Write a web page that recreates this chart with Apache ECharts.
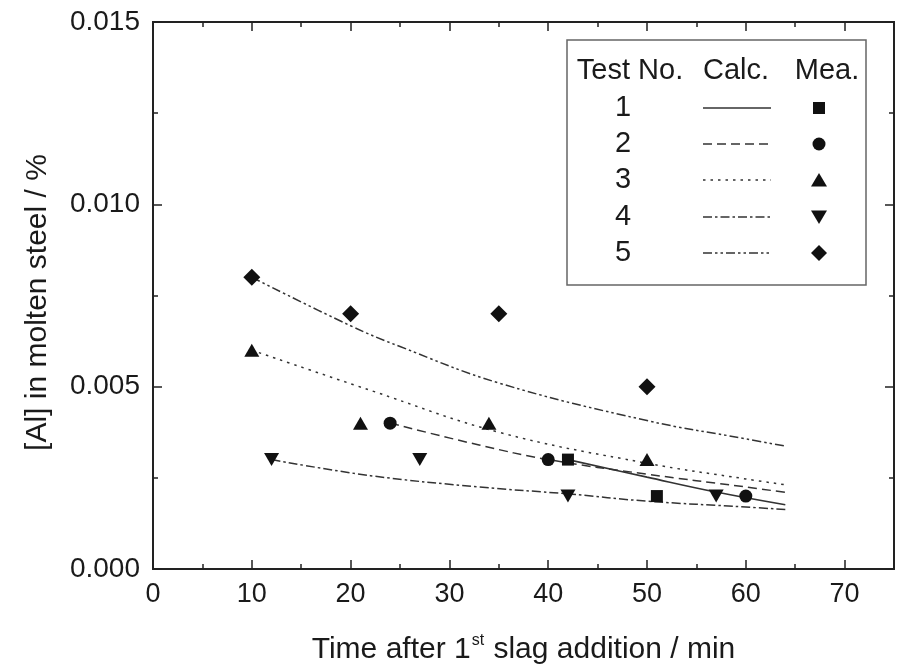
<!DOCTYPE html>
<html>
<head>
<meta charset="utf-8">
<script src="https://cdn.jsdelivr.net/npm/echarts@6/dist/echarts.min.js"></script>
<style>html,body{margin:0;padding:0;background:#fff}#c{width:897px;height:670px}</style>
</head>
<body>
<div id="c"></div>
<script>
// ---- Data ----
var xTicks = [0, 10, 20, 30, 40, 50, 60, 70];
var yTicks = [0.000, 0.005, 0.010, 0.015];

// measured points
var mea1X = [42, 51];          var mea1Y = [0.0030, 0.0020];
var mea2X = [24, 40, 60];      var mea2Y = [0.0040, 0.0030, 0.0020];
var mea3X = [10, 21, 34, 50];  var mea3Y = [0.0060, 0.0040, 0.0040, 0.0030];
var mea4X = [12, 27, 42, 57];  var mea4Y = [0.0030, 0.0030, 0.0020, 0.0020];
var mea5X = [10, 20, 35, 50];  var mea5Y = [0.0080, 0.0070, 0.0070, 0.0050];

// calculated curves
var calc1X = [42, 50, 57, 64];                 var calc1Y = [0.0030, 0.00252, 0.00211, 0.00176];
var calc2X = [24, 33, 40, 50, 60, 64];         var calc2Y = [0.0040, 0.0034, 0.0030, 0.0026, 0.00225, 0.0021];
var calc3X = [10, 22, 35, 50, 60, 64];         var calc3Y = [0.0060, 0.0049, 0.00375, 0.0029, 0.00247, 0.00231];
var calc4X = [12, 22, 33, 42, 50, 60, 64];     var calc4Y = [0.0030, 0.00256, 0.00225, 0.00206, 0.00186, 0.0017, 0.00163];
var calc5X = [10, 20, 25, 35, 50, 60, 64];     var calc5Y = [0.0080, 0.00667, 0.0061, 0.0051, 0.00407, 0.00357, 0.00337];

var testNames = ['1', '2', '3', '4', '5'];

function zip(xs, ys) { return xs.map(function (x, i) { return [x, ys[i]]; }); }

var FONT = "'Liberation Sans', Arial, sans-serif";
var INK = '#1a1a1a';
var LINE = '#333';
var dashes = ['solid', [9, 5], [2.5, 5], [9, 3, 2.5, 3], [9, 3, 2.5, 3, 2.5, 3]];
var lineWidths = [1.6, 1.5, 1.5, 1.5, 1.5];

var calcData = [zip(calc1X, calc1Y), zip(calc2X, calc2Y), zip(calc3X, calc3Y), zip(calc4X, calc4Y), zip(calc5X, calc5Y)];
var meaData = [zip(mea1X, mea1Y), zip(mea2X, mea2Y), zip(mea3X, mea3Y), zip(mea4X, mea4Y), zip(mea5X, mea5Y)];
var symbols = ['rect', 'circle', 'triangle', 'triangle', 'diamond'];
var symSizes = [12, 13, [15, 13], [15, 13], 17];
var symRot = [0, 0, 0, 180, 0];

var series = [];
for (var i = 0; i < 5; i++) {
  series.push({
    name: 'calc' + testNames[i], type: 'line', data: calcData[i], smooth: 0.4,
    showSymbol: false, symbol: 'none', z: 2,
    lineStyle: { color: LINE, width: lineWidths[i], type: dashes[i] }
  });
  series.push({
    name: 'mea' + testNames[i], type: 'scatter', data: meaData[i],
    symbol: symbols[i], symbolSize: symSizes[i], symbolRotate: symRot[i], z: 5,
    itemStyle: { color: '#111', opacity: 1 }
  });
}

function xAx(pos, interval, tickLen, labels) {
  return {
    type: 'value', min: 0, max: 75, interval: interval, position: pos,
    axisLine: { show: true, onZero: false, lineStyle: { color: '#222', width: 2 } },
    axisTick: { show: true, inside: true, length: tickLen, lineStyle: { color: '#222', width: 1.5 } },
    splitLine: { show: false },
    axisLabel: labels ? {
      show: true, margin: 12, fontSize: 27, color: INK, fontFamily: FONT,
      formatter: function (v) { return xTicks.indexOf(v) >= 0 ? String(v) : ''; }
    } : { show: false }
  };
}
function yAx(pos, labels) {
  return {
    type: 'value', min: 0, max: 0.015, interval: 0.005, position: pos,
    axisLine: { show: true, onZero: false, lineStyle: { color: '#222', width: 2 } },
    axisTick: { show: true, inside: true, length: 9, lineStyle: { color: '#222', width: 1.5 } },
    minorTick: { show: true, splitNumber: 2, length: 5, lineStyle: { color: '#222', width: 1.5 } },
    splitLine: { show: false }, minorSplitLine: { show: false },
    axisLabel: labels ? {
      show: true, margin: 13, fontSize: 28, color: INK, fontFamily: FONT,
      formatter: function (v) { return v.toFixed(3); }
    } : { show: false }
  };
}

var xAxes = [
  xAx('bottom', 10, 9, true),
  xAx('bottom', 5, 5, false),
  xAx('top', 10, 9, false),
  xAx('top', 5, 5, false)
];
xAxes[0].name = '{n|Time after 1}{s|st}{n| slag addition / min}';
xAxes[0].nameLocation = 'middle';
xAxes[0].nameGap = 64;
xAxes[0].nameTextStyle = {
  fontFamily: FONT, color: INK, fontSize: 30,
  rich: {
    n: { fontSize: 30, fontFamily: FONT, color: INK, lineHeight: 34 },
    s: { fontSize: 16, fontFamily: FONT, color: INK, verticalAlign: 'top', lineHeight: 34, padding: [0, 1, 14, 1] }
  }
};

var yAxes = [yAx('left', true), yAx('right', false)];
yAxes[0].name = '[Al] in molten steel / %';
yAxes[0].nameLocation = 'middle';
yAxes[0].nameGap = 100;
yAxes[0].nameTextStyle = { fontFamily: FONT, color: INK, fontSize: 30, padding: [0, 14, 0, 0] };

// ---- legend box (graphic) ----
var LX = 567, LY = 40, LW = 299, LH = 245;
var rowsY = [108, 144, 180, 217, 253];
var colNum = 623, lineX0 = 703, lineX1 = 771, colMark = 819;
var g = [];
g.push({ type: 'rect', shape: { x: LX, y: LY, width: LW, height: LH }, style: { fill: '#fff', stroke: '#666', lineWidth: 1.5 }, z: 10 });
[['Test No.', 630], ['Calc.', 736], ['Mea.', 827]].forEach(function (h) {
  g.push({ type: 'text', x: h[1], y: 71, z: 11, style: { text: h[0], font: '29px ' + FONT, fill: INK, textAlign: 'center', textVerticalAlign: 'middle' } });
});
for (var k = 0; k < 5; k++) {
  var yy = rowsY[k];
  g.push({ type: 'text', x: colNum, y: yy, z: 11, style: { text: testNames[k], font: '29px ' + FONT, fill: INK, textAlign: 'center', textVerticalAlign: 'middle' } });
  g.push({ type: 'line', z: 11, shape: { x1: lineX0, y1: yy, x2: lineX1, y2: yy }, style: { stroke: LINE, lineWidth: lineWidths[k], lineDash: dashes[k] === 'solid' ? null : dashes[k] } });
}
g.push({ type: 'rect', z: 11, shape: { x: colMark - 6, y: rowsY[0] - 6, width: 12, height: 12 }, style: { fill: '#111' } });
g.push({ type: 'circle', z: 11, shape: { cx: colMark, cy: rowsY[1], r: 6.5 }, style: { fill: '#111' } });
g.push({ type: 'polygon', z: 11, shape: { points: [[colMark - 8, rowsY[2] + 6.5], [colMark + 8, rowsY[2] + 6.5], [colMark, rowsY[2] - 7]] }, style: { fill: '#111' } });
g.push({ type: 'polygon', z: 11, shape: { points: [[colMark - 8, rowsY[3] - 6.5], [colMark + 8, rowsY[3] - 6.5], [colMark, rowsY[3] + 7]] }, style: { fill: '#111' } });
g.push({ type: 'polygon', z: 11, shape: { points: [[colMark, rowsY[4] - 8], [colMark + 8, rowsY[4]], [colMark, rowsY[4] + 8], [colMark - 8, rowsY[4]]] }, style: { fill: '#111' } });

var chart = echarts.init(document.getElementById('c'), null, { renderer: 'canvas' });
chart.setOption({
  backgroundColor: '#fff',
  animation: false,
  grid: { left: 153, right: 2, top: 22, bottom: 100, containLabel: false },
  xAxis: xAxes,
  yAxis: yAxes,
  series: series,
  graphic: g
});
</script>
</body>
</html>
